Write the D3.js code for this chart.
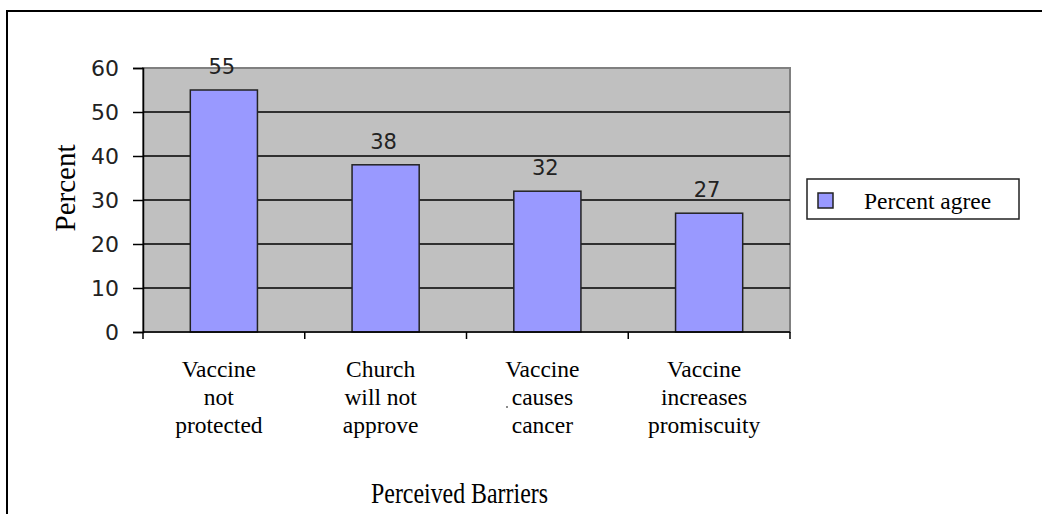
<!DOCTYPE html>
<html>
<head>
<meta charset="utf-8">
<script src="https://cdn.jsdelivr.net/npm/d3@7"></script>
<style>
  body { margin: 0; background: #fff; }
  svg { display: block; }
</style>
</head>
<body>
<div id="chart"></div>
<script>
// data
const categories = [
    ["Vaccine", "not", "protected"],
    ["Church", "will not", "approve"],
    ["Vaccine", "causes", "cancer"],
    ["Vaccine", "increases", "promiscuity"]
];
const percentAgree = [55, 38, 32, 27];
const yTicks = [0, 10, 20, 30, 40, 50, 60];
const seriesName = "Percent agree";

const W = 1042, H = 514;
const margin = {left: 143, top: 68, right: 252, bottom: 182};
const plotW = W - margin.left - margin.right;
const plotH = H - margin.top - margin.bottom;

const svg = d3.select("#chart")
    .append("svg")
    .attr("width", W)
    .attr("height", H);

// outer frame (runs off the right and bottom edges)
svg.append("rect")
    .attr("x", 7).attr("y", 11)
    .attr("width", 1100).attr("height", 600)
    .attr("fill", "none")
    .attr("stroke", "#000")
    .attr("stroke-width", 2);

const g = svg.append("g")
    .attr("transform", `translate(${margin.left},${margin.top})`);

const x = d3.scaleBand()
    .domain(d3.range(categories.length))
    .range([0, plotW])
    .paddingInner(0.585)
    .paddingOuter(0.2925);

const xBand = d3.scaleBand()
    .domain(d3.range(categories.length))
    .range([0, plotW]);

const y = d3.scaleLinear()
    .domain([0, 60])
    .range([plotH, 0]);

// plot background
g.append("rect")
    .attr("width", plotW).attr("height", plotH)
    .attr("fill", "#c0c0c0")
    .attr("stroke", "#808080")
    .attr("stroke-width", 2);

// gridlines
g.selectAll(".grid")
    .data(yTicks.filter(d => d > 0 && d < 60))
    .enter().append("line")
    .attr("x1", 0).attr("x2", plotW)
    .attr("y1", d => y(d)).attr("y2", d => y(d))
    .attr("stroke", "#000")
    .attr("stroke-width", 1.5);

// bars
g.selectAll(".bar")
    .data(percentAgree)
    .enter().append("rect")
    .attr("x", (d, i) => x(i))
    .attr("y", d => y(d))
    .attr("width", x.bandwidth())
    .attr("height", d => plotH - y(d))
    .attr("fill", "#9999ff")
    .attr("stroke", "#222")
    .attr("stroke-width", 1.5);

// value labels
g.selectAll(".val")
    .data(percentAgree)
    .enter().append("text")
    .attr("x", (d, i) => x(i) + x.bandwidth() / 2 - 2)
    .attr("y", d => y(d) - 16)
    .attr("text-anchor", "middle")
    .attr("font-family", "DejaVu Sans")
    .attr("font-size", 21)
    .attr("fill", "#222")
    .text(d => d);

// y axis
const yAxis = g.append("g")
    .call(d3.axisLeft(y).tickValues(yTicks).tickSize(10).tickPadding(14));
yAxis.select(".domain").attr("stroke", "#000").attr("stroke-width", 1.5);
yAxis.selectAll(".tick line").attr("stroke", "#000").attr("stroke-width", 1.5);
yAxis.selectAll(".tick text")
    .attr("font-family", "DejaVu Sans")
    .attr("font-size", 22)
    .attr("fill", "#222");

// x axis: ticks on band boundaries
const xAxis = g.append("g")
    .attr("transform", `translate(0,${plotH})`);
xAxis.append("line")
    .attr("x1", 0).attr("x2", plotW)
    .attr("stroke", "#000").attr("stroke-width", 1.5);
xAxis.selectAll(".xt")
    .data(d3.range(categories.length + 1))
    .enter().append("line")
    .attr("x1", i => i * xBand.bandwidth())
    .attr("x2", i => i * xBand.bandwidth())
    .attr("y1", 0).attr("y2", 7)
    .attr("stroke", "#000").attr("stroke-width", 1.5);

// category labels
const cat = g.selectAll(".cat")
    .data(categories)
    .enter().append("text")
    .attr("text-anchor", "middle")
    .attr("font-family", "Liberation Serif")
    .attr("font-size", 23.5)
    .attr("fill", "#000");
cat.selectAll("tspan")
    .data((d, i) => d.map(t => ({t, i})))
    .enter().append("tspan")
    .attr("x", d => xBand(d.i) + xBand.bandwidth() / 2 - 5)
    .attr("y", (d, j) => plotH + 45 + j * 28)
    .text(d => d.t);

// axis titles
svg.append("text")
    .attr("transform", "translate(75,188) rotate(-90)")
    .attr("text-anchor", "middle")
    .attr("font-family", "Liberation Serif")
    .attr("font-size", 29)
    .text("Percent");

svg.append("text")
    .attr("x", 371).attr("y", 503)
    .attr("font-family", "Liberation Serif")
    .attr("font-size", 30)
    .attr("textLength", 177)
    .attr("lengthAdjust", "spacingAndGlyphs")
    .text("Perceived Barriers");

// legend
const leg = svg.append("g").attr("transform", "translate(807,179)");
leg.append("rect")
    .attr("width", 212).attr("height", 40)
    .attr("fill", "#fff")
    .attr("stroke", "#222")
    .attr("stroke-width", 1.5);
leg.append("rect")
    .attr("x", 11).attr("y", 14)
    .attr("width", 15).attr("height", 15)
    .attr("fill", "#9999ff")
    .attr("stroke", "#222")
    .attr("stroke-width", 1.5);
leg.append("text")
    .attr("x", 57).attr("y", 30)
    .attr("font-family", "Liberation Serif")
    .attr("font-size", 23.5)
    .text(seriesName);

// stray speck in the original scan
svg.append("circle")
    .attr("cx", 507).attr("cy", 407).attr("r", 1)
    .attr("fill", "#666");
</script>
</body>
</html>
